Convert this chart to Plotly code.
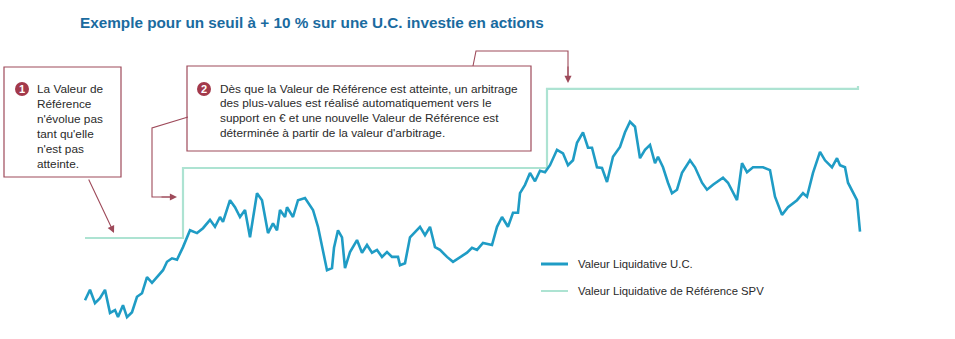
import plotly.graph_objects as go

W, H = 955, 339

# --- Data ---
# time index (days) and "Valeur Liquidative U.C." values
uc_jour = [0, 5, 10, 15, 20, 25, 30, 33, 38, 42, 47, 52, 57, 62, 67, 72, 78, 82, 87, 92,
           98, 105, 112, 118, 125, 130, 135, 138, 145, 150, 155, 160, 165, 172, 177, 183, 188, 192, 195, 200,
           202, 208, 213, 220, 228, 233, 238, 242, 247, 249, 253, 257, 260, 265, 272, 277, 282, 287, 292, 297,
           302, 307, 313, 315, 320, 325, 335, 340, 345, 350, 355, 362, 368, 375, 382, 387, 392, 398, 407, 412,
           417, 423, 428, 433, 435, 440, 445, 450, 455, 460, 465, 472, 478, 483, 488, 492, 498, 503, 507, 512,
           517, 522, 528, 535, 540, 545, 550, 555, 560, 565, 570, 573, 578, 583, 587, 592, 597, 605, 610, 617,
           622, 628, 638, 643, 652, 657, 662, 668, 678, 685, 690, 697, 703, 712, 718, 722, 728, 735, 740, 747,
           752, 755, 760, 763, 768, 772, 775]
uc_valeur = [91.1, 92.6, 90.7, 91.4, 92.6, 89.3, 89.7, 88.7, 90.4, 88.7, 89.4, 91.6, 92.1, 94.4, 93.6, 94.4, 95.4, 96.6, 97.1, 96.9,
             98.7, 101.1, 100.7, 101.4, 102.6, 101.6, 103.0, 102.3, 105.4, 104.4, 103.0, 104.0, 100.1, 106.4, 105.4, 100.7, 102.1, 101.1, 104.0, 103.0,
             104.4, 103.0, 105.4, 105.7, 104.0, 101.6, 97.9, 95.4, 95.7, 98.6, 101.1, 100.1, 95.7, 98.0, 99.7, 97.9, 99.0, 97.9, 98.3, 97.3,
             98.0, 97.3, 97.3, 96.1, 96.4, 100.1, 101.6, 100.4, 101.6, 98.7, 98.3, 97.3, 96.6, 97.3, 97.9, 98.6, 98.3, 99.3, 99.0, 101.6,
             103.0, 101.6, 103.6, 103.6, 106.4, 107.6, 109.3, 108.1, 109.6, 109.4, 110.4, 112.6, 112.1, 110.4, 111.1, 113.6, 115.1, 112.9, 112.9, 110.1,
             110.0, 108.0, 111.6, 113.0, 115.1, 116.6, 115.9, 111.4, 112.6, 113.3, 110.7, 111.6, 110.1, 107.9, 106.4, 106.9, 109.3, 111.1, 110.1, 107.9,
             106.9, 107.6, 108.6, 107.9, 105.4, 110.7, 109.4, 110.1, 110.1, 109.7, 105.9, 103.3, 104.4, 105.4, 106.4, 105.9, 109.3, 112.3, 111.1, 110.1,
             111.4, 110.4, 110.1, 107.9, 106.4, 105.4, 100.9]

# "Valeur Liquidative de Référence SPV" (step line)
ref_jour = [0, 98, 462, 773]
ref_valeur = [100.0, 110.0, 121.3, 121.7]

titre = "Exemple pour un seuil à + 10 % sur une U.C. investie en actions"
note1 = ["La Valeur de", "Référence", "n'évolue pas", "tant qu'elle", "n'est pas", "atteinte."]
note2 = ["Dès que la Valeur de Référence est atteinte, un arbitrage",
         "des plus-values est réalisé automatiquement vers le",
         "support en € et une nouvelle Valeur de Référence est",
         "déterminée à partir de la valeur d'arbitrage."]
legende = ["Valeur Liquidative U.C.", "Valeur Liquidative de Référence SPV"]

# --- Styles ---
C_UC = "#1f9cc5"
C_REF = "#ade3d2"
C_BOX = "#9e4a5a"
C_NUM = "#a3394b"
C_TXT = "#2a2a2a"
C_TITLE = "#1a6b9f"
FONT = "Liberation Sans, Arial, sans-serif"

def px(x):
    return x / W

def py(y):
    return 1 - y / H

fig = go.Figure()
fig.add_trace(go.Scatter(x=ref_jour, y=ref_valeur, mode="lines", line=dict(color=C_REF, width=2.2, shape="hv"),
                         name=legende[1], showlegend=False, hoverinfo="skip"))
fig.add_trace(go.Scatter(x=uc_jour, y=uc_valeur, mode="lines", line=dict(color=C_UC, width=2.6),
                         name=legende[0], showlegend=False))

shapes = []
annotations = []

# title
annotations.append(dict(text="<b>" + titre + "</b>", x=px(78), y=py(23), xref="paper", yref="paper",
                        xanchor="left", yanchor="middle", showarrow=False,
                        font=dict(family=FONT, size=15.3, color=C_TITLE)))

# box 1
shapes.append(dict(type="rect", xref="paper", yref="paper", x0=px(4), x1=px(121), y0=py(67), y1=py(177),
                   line=dict(color=C_BOX, width=1.2), fillcolor="rgba(0,0,0,0)"))
# box 2
shapes.append(dict(type="rect", xref="paper", yref="paper", x0=px(187), x1=px(531), y0=py(66), y1=py(151),
                   line=dict(color=C_BOX, width=1.2), fillcolor="rgba(0,0,0,0)"))

# number circles
for cx, cy, n in [(22, 89, "1"), (204, 89, "2")]:
    shapes.append(dict(type="circle", xref="paper", yref="paper", x0=px(cx - 7), x1=px(cx + 7),
                       y0=py(cy - 7), y1=py(cy + 7), line=dict(color=C_NUM, width=0), fillcolor=C_NUM))
    annotations.append(dict(text="<b>" + n + "</b>", x=px(cx), y=py(cy), xref="paper", yref="paper",
                            xanchor="center", yanchor="middle", showarrow=False,
                            font=dict(family=FONT, size=11, color="white")))

# text lines box 1
for i, t in enumerate(note1):
    annotations.append(dict(text=t, x=px(35), y=py(89 + i * 15), xref="paper", yref="paper",
                            xanchor="left", yanchor="middle", showarrow=False,
                            font=dict(family=FONT, size=11.8, color=C_TXT)))
# text lines box 2
for i, t in enumerate(note2):
    annotations.append(dict(text=t, x=px(218), y=py(89 + i * 14.5), xref="paper", yref="paper",
                            xanchor="left", yanchor="middle", showarrow=False,
                            font=dict(family=FONT, size=11.8, color=C_TXT)))

# connector paths
def path(pts):
    d = "M " + " L ".join(f"{px(x)} {py(y)}" for x, y in pts)
    return dict(type="path", xref="paper", yref="paper", path=d, line=dict(color=C_BOX, width=1.1))

shapes.append(path([(188, 117), (152, 128), (152, 197), (170, 197)]))
shapes.append(path([(473, 66), (476, 51), (568, 51), (568, 76)]))

# arrow heads (tail offset in screen pixels)
def arrow(x0, y0, x1, y1):
    annotations.append(dict(x=px(x1), y=py(y1), ax=x0 - x1, ay=y0 - y1, xref="paper", yref="paper",
                            axref="pixel", ayref="pixel", text="", showarrow=True,
                            arrowhead=2, arrowsize=1.3, arrowwidth=1.1, arrowcolor=C_BOX))

arrow(88, 178, 114, 233)
arrow(160, 197, 177, 197)
arrow(568, 65, 568, 83)

# custom legend
for i, (t, c, w) in enumerate([(legende[0], C_UC, 3), (legende[1], C_REF, 2)]):
    yy = 264 + i * 27
    shapes.append(dict(type="line", xref="paper", yref="paper", x0=px(541), x1=px(568), y0=py(yy), y1=py(yy),
                       line=dict(color=c, width=w)))
    annotations.append(dict(text=t, x=px(576), y=py(yy), xref="paper", yref="paper",
                            xanchor="left", yanchor="middle", showarrow=False,
                            font=dict(family=FONT, size=11.3, color=C_TXT)))

fig.update_layout(
    width=W, height=H, margin=dict(l=0, r=0, t=0, b=0),
    paper_bgcolor="white", plot_bgcolor="white",
    xaxis=dict(range=[-85, 870], visible=False, fixedrange=True),
    yaxis=dict(range=[100 - 101 / 7, 100 + 238 / 7], visible=False, fixedrange=True),
    shapes=shapes, annotations=annotations, showlegend=False,
)

fig.write_html("out.html", config={"displayModeBar": False})
